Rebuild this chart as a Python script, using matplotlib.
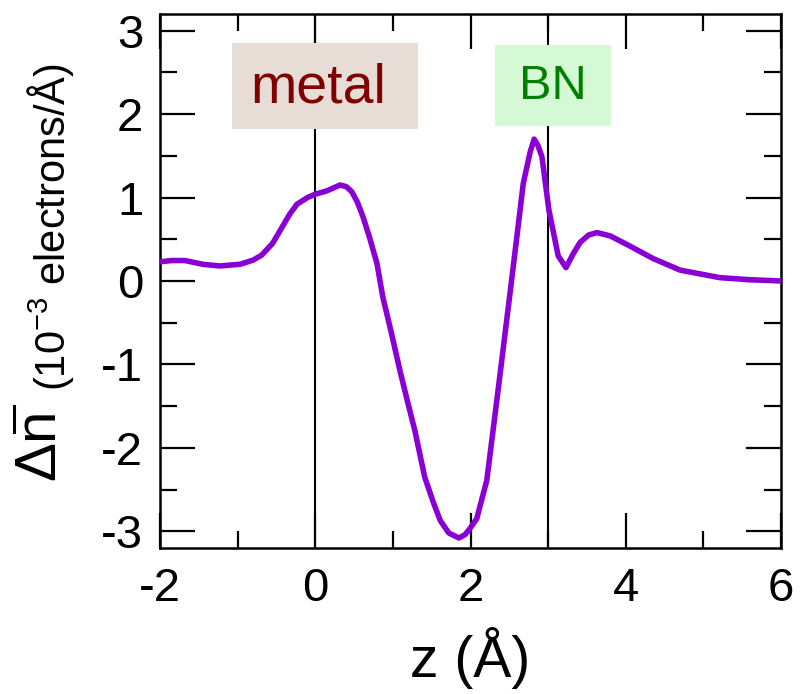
import matplotlib
matplotlib.use('Agg')
import matplotlib.pyplot as plt
from matplotlib.lines import Line2D
from matplotlib.patches import Rectangle
from matplotlib.ticker import MultipleLocator

plt.rcParams['font.family'] = ['Liberation Sans', 'DejaVu Sans']
plt.rcParams['mathtext.fontset'] = 'custom'
plt.rcParams['mathtext.rm'] = 'Liberation Sans'
plt.rcParams['mathtext.it'] = 'Liberation Sans'
plt.rcParams['axes.unicode_minus'] = False

# plane-averaged charge density difference along z
z = [-2.0, -1.85, -1.68, -1.45, -1.23, -0.97, -0.8, -0.69, -0.55, -0.455,
     -0.33, -0.235, -0.1, 0.0, 0.15, 0.32, 0.40, 0.47, 0.54, 0.615,
     0.70, 0.795, 0.87, 0.98, 1.09, 1.19, 1.285, 1.41, 1.52, 1.61,
     1.72, 1.85, 1.93, 1.99, 2.08, 2.21, 2.35, 2.51, 2.60, 2.68,
     2.77, 2.82, 2.87, 2.92, 3.01, 3.13, 3.23, 3.32, 3.41, 3.52,
     3.63, 3.80, 4.05, 4.35, 4.70, 5.21, 5.6, 6.0]
dn = [0.23, 0.245, 0.245, 0.20, 0.18, 0.20, 0.25, 0.31, 0.45, 0.60,
      0.80, 0.92, 1.00, 1.04, 1.08, 1.15, 1.13, 1.07, 0.95, 0.77,
      0.52, 0.21, -0.19, -0.62, -1.07, -1.45, -1.80, -2.35, -2.65, -2.87,
      -3.02, -3.08, -3.04, -2.97, -2.85, -2.39, -1.35, -0.14, 0.55, 1.17,
      1.55, 1.70, 1.62, 1.49, 0.85, 0.30, 0.16, 0.32, 0.46, 0.55,
      0.58, 0.54, 0.42, 0.27, 0.13, 0.04, 0.015, 0.0]

# interface planes
planes = [0.0, 3.0]

fig = plt.figure(figsize=(8, 6.94), dpi=100)
ax = fig.add_axes([0.2, 0.2104, 0.77625, 0.7695])

for p in planes:
    ax.axvline(p, color='black', lw=1.5, zorder=1)

ax.plot(z, dn, color='#8A00D4', lw=4, zorder=4,
        solid_joinstyle='round', solid_capstyle='round')

# region labels
ax.add_patch(Rectangle((-1.07, 1.82), 2.39, 1.03, facecolor='#E8DCD6',
                       edgecolor='none', zorder=2))
ax.text(0.04, 2.31, 'metal', color='#800000', fontsize=40,
        ha='center', va='center', zorder=3)
ax.add_patch(Rectangle((2.32, 1.86), 1.49, 0.97, facecolor='#D4F9D4',
                       edgecolor='none', zorder=2))
ax.text(3.06, 2.33, 'BN', color='#008000', fontsize=35,
        ha='center', va='center', zorder=3)

ax.set_xlim(-2, 6)
ax.set_ylim(-3.2, 3.2)
ax.xaxis.set_major_locator(MultipleLocator(2))
ax.xaxis.set_minor_locator(MultipleLocator(1))
ax.yaxis.set_major_locator(MultipleLocator(1))
ax.yaxis.set_minor_locator(MultipleLocator(0.5))
ax.tick_params(which='both', direction='in', top=True, right=True,
               width=1.6, labelsize=34)
ax.tick_params(which='major', length=25)
ax.tick_params(which='minor', length=12.5)
ax.tick_params(axis='x', pad=14)
ax.tick_params(axis='y', pad=12)
for s in ax.spines.values():
    s.set_linewidth(1.8)

ax.set_xlabel('z (Å)', fontsize=41, labelpad=11)

# y label: "Δn" with an overbar, then the units in a smaller size
fig.text(0.049, 0.308, 'Δn', rotation=90, fontsize=42,
         ha='center', va='bottom')
fig.add_artist(Line2D([0.0175, 0.0175], [0.378, 0.415], color='black',
                      lw=2.2, transform=fig.transFigure))
fig.text(0.063, 0.437, r'(10$^{-3}$ electrons/Å)', rotation=90, fontsize=30,
         ha='center', va='bottom')

fig.savefig('out.png', dpi=100)
